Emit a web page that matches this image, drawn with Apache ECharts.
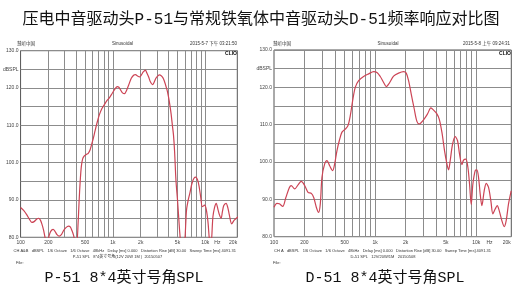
<!DOCTYPE html>
<html><head><meta charset="utf-8">
<script src="https://cdn.jsdelivr.net/npm/echarts@6/dist/echarts.min.js"></script>
<style>html,body{margin:0;padding:0;background:#fff}#c{width:520px;height:293px}</style>
</head><body><div id="c"></div><script>
// P-51 (left panel) frequency response
const p51Freq = [100,108,117,125,132,140,150,157,164,170,178,186,195,203,212,225,236,248,262,278,292,310,330,345,360,375,390,405,420,430,442,455,470,490,515,540,565,590,613,640,670,712,760,805,860,910,983,1050,1113,1160,1208,1270,1336,1400,1485,1580,1687,1760,1830,1950,2040,2130,2244,2330,2430,2550,2685,2800,2917,3050,3196,3330,3470,3600,3737,3870,3996,4130,4267,4400,4520,4650,4810,5000,5130,5300,5500,5750,6000,6150,6266,6531,6795,7263,7820,8355,8908,9290,9826,10250,10700,11120,11500,12090,12600,13120,13700,14230,14840,15300,15850,16790,17500,18200,19300,20570,22700];
const p51Spl = [88.0,87.2,86.0,84.8,84.0,84.2,84.9,85.1,84.6,83.6,81.8,79.5,78.5,80.3,81.6,82.1,81.6,80.7,80.3,80.8,81.8,82.6,83.0,82.8,81.8,80.5,78.8,78.5,84.0,89.5,95.0,99.0,101.0,101.8,102.2,102.5,103.4,105.0,106.5,108.5,110.5,112.8,114.5,115.5,116.6,117.3,118.6,119.7,120.4,120.2,119.5,118.7,118.5,119.3,120.9,122.6,123.5,123.6,123.3,123.0,123.6,124.3,124.8,124.0,123.0,121.6,120.9,121.6,122.6,123.2,123.5,123.3,122.8,121.9,120.6,119.3,117.6,115.5,113.0,110.0,107.5,103.0,95.3,90.0,86.0,81.0,77.0,76.0,79.0,84.0,87.4,90.0,91.8,94.9,96.1,94.9,90.9,88.2,88.6,87.4,84.0,79.0,78.0,85.5,88.0,89.1,87.5,86.0,85.1,86.8,88.5,89.1,88.0,86.0,83.6,84.6,85.5];
// D-51 (right panel) frequency response
const d51Freq = [100,107,113,122,131,142,148,160,173,186,201,217,234,247,262,276,287,298,317,334,355,380,398,419,442,470,507,538,568,599,636,687,769,862,966,1042,1124,1213,1288,1380,1522,1706,1911,2030,2141,2275,2436,2588,2730,3012,3299,3559,3782,4080,4302,4571,4858,5123,5321,5526,5829,6193,6530,6833,7207,7485,7893,8260,8580,8912,9256,9761,10137,10529,10936,11360,11978,12537,13222,13943,14590,15386,16103,16853,17906,18880,19760,20835,22140];
const d51Spl = [87.9,88.9,88.8,88.1,90.5,93.2,93.7,92.8,93.9,94.8,93.7,91.9,91.6,90.5,87.9,86.5,88.8,95.9,99.5,100.4,99.0,97.7,99.5,103.0,105.7,108.0,108.8,109.7,112.4,116.4,120.0,121.8,122.9,123.6,124.2,124.0,122.9,121.3,120.2,121.1,123.0,123.8,124.2,123.8,121.8,118.2,114.2,110.9,110.2,111.3,112.9,114.5,113.9,112.9,111.5,108.0,103.0,99.5,97.9,100.4,104.8,106.8,105.7,102.1,99.3,100.5,100.8,98.6,94.1,88.6,94.1,97.7,97.9,95.9,91.4,88.3,92.3,94.3,93.2,89.6,86.1,87.4,88.3,87.0,84.3,82.7,84.3,88.8,92.3];
// axis ticks
const xLabelHz = [100,200,500,1000,2000,5000,10000,13500,20000];
const xLabelText = ['100','200','500','1k','2k','5k','10k','Hz','20k'];
const xGridHz = [200,300,400,500,600,700,800,900,1000,2000,3000,4000,5000,6000,7000,8000,9000,10000];
const yMin = 80, yMax = 130, yStep = 5;
const fMin = 100, fMax = 22200;

const chart = echarts.init(document.getElementById('c'), null, {renderer: 'canvas'});
const sans = '"Liberation Sans", Arial, "Noto Sans CJK SC"';
const serif = '"Liberation Mono", "Noto Sans CJK SC"';
const gridColor = '#8c8c8c';
function xLab(v) {
  const f = Math.pow(10, v);
  let best = 0, d = 1e9;
  xLabelHz.forEach((h, i) => { const dd = Math.abs(Math.log10(h) - v); if (dd < d) { d = dd; best = i; } });
  return xLabelText[best];
}
function xAxisFor(i) {
  return {
    gridIndex: i, type: 'value', min: Math.log10(fMin), max: Math.log10(fMax),
    axisLine: {show: false},
    axisTick: {show: false, customValues: xGridHz.map(Math.log10)},
    splitLine: {show: true, lineStyle: {color: gridColor, width: 1}},
    axisLabel: {customValues: xLabelHz.map(Math.log10), formatter: xLab, fontSize: 5, color: '#444', margin: 3, fontFamily: sans}
  };
}
function yAxisFor(i) {
  return {
    gridIndex: i, type: 'value', min: yMin, max: yMax, interval: yStep,
    axisLine: {show: false}, axisTick: {show: false},
    splitLine: {show: true, lineStyle: {color: gridColor, width: 1}},
    axisLabel: {formatter: v => v === 125 ? 'dBSPL' : (v % 10 === 0 ? v.toFixed(1) : ''), fontSize: 5, color: '#444', margin: 2, fontFamily: sans}
  };
}
function seriesFor(i, fr, sp) {
  return {
    type: 'line', xAxisIndex: i, yAxisIndex: i, showSymbol: false, smooth: 0.3, clip: true,
    data: fr.map((f, k) => [Math.log10(f), sp[k]]),
    lineStyle: {color: '#cc4455', width: 1.2}, silent: true, animation: false
  };
}
function txt(x, y, s, size, align, extra) {
  return Object.assign({type: 'text', x: x, y: y, silent: true,
    style: {text: s, fontSize: size, fontFamily: sans, fill: '#333', align: align || 'left', verticalAlign: 'middle'}}, extra || {});
}
const graphics = [
  {type: 'text', x: 261, y: 20, style: {text: '压电中音驱动头P-51与常规铁氧体中音驱动头D-51频率响应对比图', fontSize: 16, fontFamily: serif, fill: '#111', align: 'center', verticalAlign: 'middle'}},
  {type: 'text', x: 124, y: 278, style: {text: 'P-51 8*4英寸号角SPL', fontSize: 15, fontFamily: serif, fill: '#111', align: 'center', verticalAlign: 'middle'}},
  {type: 'text', x: 385, y: 278, style: {text: 'D-51 8*4英寸号角SPL', fontSize: 15, fontFamily: serif, fill: '#111', align: 'center', verticalAlign: 'middle'}},
  txt(17, 43.5, '慧听中国', 4.5),
  txt(122.5, 43.5, 'Sinusoidal', 4.5, 'center'),
  txt(237, 43.5, '2015-5-7 下午 03:21:50', 4.5, 'right'),
  txt(273, 43.5, '慧听中国', 4.5),
  txt(388, 43.5, 'Sinusoidal', 4.5, 'center'),
  txt(510, 43.5, '2015-5-8 上午 09:24:31', 4.5, 'right'),
  {type: 'text', x: 237, y: 54, style: {text: 'CLIO', fontSize: 5, fontWeight: 'bold', fontFamily: sans, fill: '#111', align: 'right', verticalAlign: 'middle'}},
  {type: 'text', x: 511, y: 53.5, style: {text: 'CLIO', fontSize: 5, fontWeight: 'bold', fontFamily: sans, fill: '#111', align: 'right', verticalAlign: 'middle'}},
  txt(13.5, 250.5, 'CH A&B   dBSPL   1/6 Octave   1/6 Octave   48kHz   Delay [ms] 0.000   Distortion Rise [dB] 30.00   Sweep Time [ms] 4091.31', 4),
  txt(117.5, 257, 'P-51 SPL   8*4英寸号角(12V 20W 1M )  20150507', 4, 'center'),
  txt(16, 263, 'File:', 4),
  txt(274, 250.5, 'CH A   dBSPL   1/6 Octave   1/6 Octave   48kHz   Delay [ms] 0.000   Distortion Rise [dB] 30.00   Sweep Time [ms] 4091.31', 4),
  txt(383, 257, 'D-51 SPL   12V/20W/1M   20150508', 4, 'center'),
  txt(273, 263, 'File:', 4)
];
chart.setOption({
  backgroundColor: '#fff',
  animation: false,
  grid: [
    {left: 17, top: 50.7, width: 220.3, height: 186.6, show: true, borderColor: '#555', borderWidth: 1, backgroundColor: '#fff'},
    {left: 274, top: 50, width: 237.3, height: 186.7, show: true, borderColor: '#555', borderWidth: 1, backgroundColor: '#fff'}
  ],
  xAxis: [xAxisFor(0), xAxisFor(1)],
  yAxis: [yAxisFor(0), yAxisFor(1)],
  series: [seriesFor(0, p51Freq, p51Spl), seriesFor(1, d51Freq, d51Spl)],
  graphic: graphics
});
</script></body></html>
